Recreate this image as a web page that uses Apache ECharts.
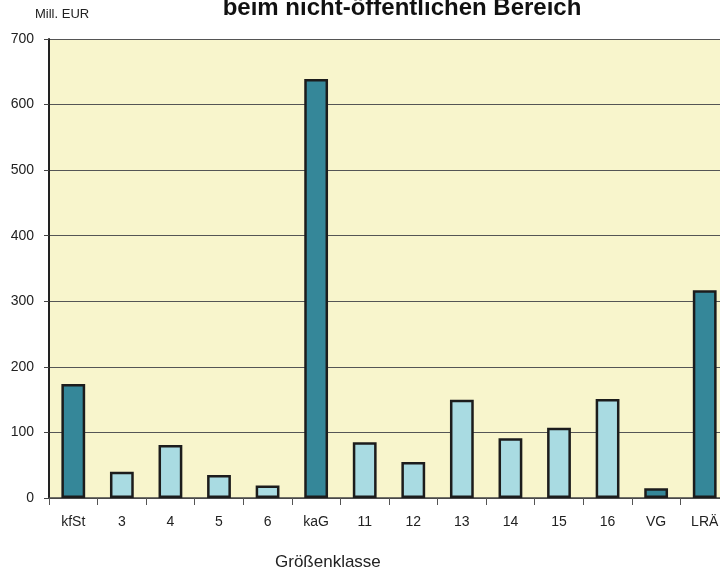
<!DOCTYPE html>
<html>
<head>
<meta charset="utf-8">
<script src="https://cdn.jsdelivr.net/npm/echarts@6/dist/echarts.min.js"></script>
<style>
  html, body { margin: 0; padding: 0; background: #fff; overflow: hidden; }
  #chart { width: 730px; height: 572px; }
</style>
</head>
<body>
<div id="chart"></div>
<script>
const categories = ['kfSt', '3', '4', '5', '6', 'kaG', '11', '12', '13', '14', '15', '16', 'VG', 'LRÄ']
const values = [174, 40, 81, 35, 19, 639, 85, 55, 150, 91, 107, 151, 15, 317]
// groups drawn in the darker colour
const totals = ['kfSt', 'kaG', 'VG', 'LRÄ']
const yTicks = [0, 100, 200, 300, 400, 500, 600, 700]

// the original plot runs a few pixels past the right edge of the picture,
// so the canvas is a bit wider than the 720px window
const chart = echarts.init(document.getElementById('chart'))
const font = 'Liberation Sans, Arial, sans-serif'

chart.setOption({
  animation: false,
  backgroundColor: '#ffffff',
  title: {
    text: 'beim nicht-öffentlichen Bereich',
    left: 397,
    textAlign: 'center',
    top: -9,
    textStyle: { fontFamily: font, fontSize: 24, fontWeight: 'bold', color: '#111' }
  },
  graphic: [
    {
      type: 'text', left: 35, top: 8,
      style: { text: 'Mill. EUR', font: '13px ' + font, fill: '#222' }
    },
    {
      type: 'text', left: 275, top: 554,
      style: { text: 'Größenklasse', font: '17px ' + font, fill: '#222' }
    }
  ],
  grid: {
    left: 49, top: 39, right: 1, bottom: 74,
    show: true, backgroundColor: '#f8f5cc', borderWidth: 0
  },
  xAxis: {
    type: 'category',
    data: categories,
    axisLine: { lineStyle: { color: '#444', width: 1.5 } },
    axisTick: { show: true, length: 7, lineStyle: { color: '#555' } },
    axisLabel: { fontFamily: font, fontSize: 14, color: '#222', margin: 17 }
  },
  yAxis: {
    type: 'value',
    min: yTicks[0],
    max: yTicks[yTicks.length - 1],
    interval: 100,
    axisLine: { show: true, lineStyle: { color: '#222', width: 2 } },
    axisTick: { show: true, length: 5, lineStyle: { color: '#444' } },
    axisLabel: { fontFamily: font, fontSize: 14, color: '#222', margin: 15 },
    splitLine: { lineStyle: { color: '#555', width: 1 } }
  },
  series: [{
    type: 'bar',
    barWidth: '49%',
    data: values.map((v, i) => ({
      value: v,
      itemStyle: { color: totals.includes(categories[i]) ? '#358799' : '#a9dbe2' }
    })),
    itemStyle: { borderColor: '#1c1c1c', borderWidth: 2.5 }
  }]
})
</script>
</body>
</html>
